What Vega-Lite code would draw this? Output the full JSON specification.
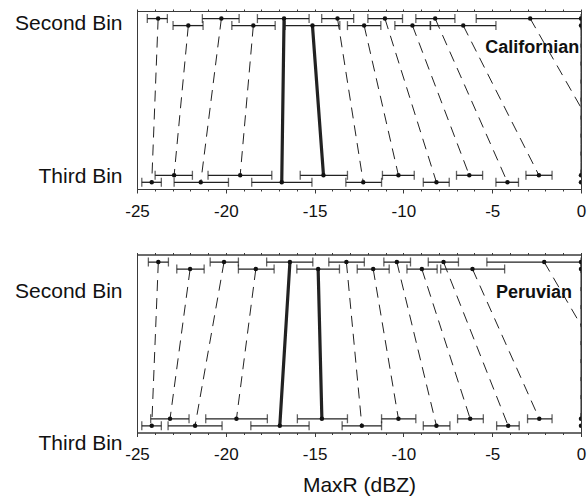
{
  "$schema": "https://vega.github.io/schema/vega-lite/v6.json",
  "background": "white",
  "padding": {"left": 14, "top": 8, "right": 4, "bottom": 2},
  "config": {
    "view": {"stroke": "#3a3a3a", "strokeWidth": 1},
    "font": "Liberation Sans",
    "axis": {"labelFont": "Liberation Sans", "titleFont": "Liberation Sans", "labelColor": "#111", "titleColor": "#111", "domainColor": "#3a3a3a", "tickColor": "#3a3a3a", "grid": false},
    "concat": {"spacing": 31.5}
  },
  "datasets": {
    "californian": [
      {"pair": 1, "kind": "case", "bin": "Second Bin", "track": "upper", "maxr": -23.81, "lo": -24.42, "hi": -23.29},
      {"pair": 1, "kind": "case", "bin": "Third Bin", "track": "lower", "maxr": -24.17, "lo": -24.73, "hi": -23.63},
      {"pair": 2, "kind": "case", "bin": "Second Bin", "track": "lower", "maxr": -22.11, "lo": -22.97, "hi": -21.28},
      {"pair": 2, "kind": "case", "bin": "Third Bin", "track": "upper", "maxr": -22.91, "lo": -23.98, "hi": -21.88},
      {"pair": 3, "kind": "case", "bin": "Second Bin", "track": "upper", "maxr": -20.25, "lo": -21.32, "hi": -19.25},
      {"pair": 3, "kind": "case", "bin": "Third Bin", "track": "lower", "maxr": -21.41, "lo": -22.91, "hi": -19.85},
      {"pair": 4, "kind": "case", "bin": "Second Bin", "track": "lower", "maxr": -18.45, "lo": -19.66, "hi": -17.22},
      {"pair": 4, "kind": "case", "bin": "Third Bin", "track": "upper", "maxr": -19.19, "lo": -21.0, "hi": -17.41},
      {"pair": 5, "kind": "mean", "bin": "Second Bin", "track": "upper", "maxr": -16.72, "lo": -18.22, "hi": -15.31},
      {"pair": 5, "kind": "mean", "bin": "Third Bin", "track": "lower", "maxr": -16.85, "lo": -18.54, "hi": -15.15},
      {"pair": 6, "kind": "mean", "bin": "Second Bin", "track": "lower", "maxr": -15.12, "lo": -16.66, "hi": -13.58},
      {"pair": 6, "kind": "mean", "bin": "Third Bin", "track": "upper", "maxr": -14.5, "lo": -15.81, "hi": -13.15},
      {"pair": 7, "kind": "case", "bin": "Second Bin", "track": "upper", "maxr": -13.71, "lo": -14.6, "hi": -12.8},
      {"pair": 7, "kind": "case", "bin": "Third Bin", "track": "lower", "maxr": -12.26, "lo": -13.24, "hi": -11.23},
      {"pair": 8, "kind": "case", "bin": "Second Bin", "track": "lower", "maxr": -12.21, "lo": -13.15, "hi": -11.27},
      {"pair": 8, "kind": "case", "bin": "Third Bin", "track": "upper", "maxr": -10.28, "lo": -11.18, "hi": -9.39},
      {"pair": 9, "kind": "case", "bin": "Second Bin", "track": "upper", "maxr": -11.04, "lo": -12.0, "hi": -10.05},
      {"pair": 9, "kind": "case", "bin": "Third Bin", "track": "lower", "maxr": -8.14, "lo": -8.88, "hi": -7.42},
      {"pair": 10, "kind": "case", "bin": "Second Bin", "track": "lower", "maxr": -9.49, "lo": -10.48, "hi": -8.49},
      {"pair": 10, "kind": "case", "bin": "Third Bin", "track": "upper", "maxr": -6.29, "lo": -7.01, "hi": -5.54},
      {"pair": 11, "kind": "case", "bin": "Second Bin", "track": "upper", "maxr": -8.21, "lo": -9.3, "hi": -7.1},
      {"pair": 11, "kind": "case", "bin": "Third Bin", "track": "lower", "maxr": -4.14, "lo": -4.79, "hi": -3.52},
      {"pair": 12, "kind": "case", "bin": "Second Bin", "track": "lower", "maxr": -6.63, "lo": -8.47, "hi": -4.79},
      {"pair": 12, "kind": "case", "bin": "Third Bin", "track": "upper", "maxr": -2.37, "lo": -3.1, "hi": -1.63},
      {"pair": 13, "kind": "case", "bin": "Second Bin", "track": "upper", "maxr": -2.86, "lo": -5.9, "hi": 0},
      {"pair": 13, "kind": "case", "bin": "Third Bin", "track": "lower", "maxr": 2.4, "lo": null, "hi": null},
      {"pair": 14, "kind": "case", "bin": "Second Bin", "track": "lower", "maxr": 0, "lo": null, "hi": null},
      {"pair": 14, "kind": "case", "bin": "Third Bin", "track": "upper", "maxr": 0, "lo": null, "hi": null},
      {"pair": 15, "kind": "case", "bin": "Second Bin", "track": "upper", "maxr": 0, "lo": null, "hi": null},
      {"pair": 15, "kind": "case", "bin": "Third Bin", "track": "lower", "maxr": 0, "lo": null, "hi": null}
    ],
    "peruvian": [
      {"pair": 1, "kind": "case", "bin": "Second Bin", "track": "upper", "maxr": -23.8, "lo": -24.36, "hi": -23.23},
      {"pair": 1, "kind": "case", "bin": "Third Bin", "track": "lower", "maxr": -24.17, "lo": -24.73, "hi": -23.63},
      {"pair": 2, "kind": "case", "bin": "Second Bin", "track": "lower", "maxr": -22.01, "lo": -22.76, "hi": -21.22},
      {"pair": 2, "kind": "case", "bin": "Third Bin", "track": "upper", "maxr": -23.14, "lo": -24.23, "hi": -22.07},
      {"pair": 3, "kind": "case", "bin": "Second Bin", "track": "upper", "maxr": -20.1, "lo": -20.88, "hi": -19.29},
      {"pair": 3, "kind": "case", "bin": "Third Bin", "track": "lower", "maxr": -21.73, "lo": -23.25, "hi": -20.21},
      {"pair": 4, "kind": "case", "bin": "Second Bin", "track": "lower", "maxr": -18.31, "lo": -19.29, "hi": -17.28},
      {"pair": 4, "kind": "case", "bin": "Third Bin", "track": "upper", "maxr": -19.4, "lo": -21.13, "hi": -17.66},
      {"pair": 5, "kind": "mean", "bin": "Second Bin", "track": "upper", "maxr": -16.39, "lo": -17.7, "hi": -15.1},
      {"pair": 5, "kind": "mean", "bin": "Third Bin", "track": "lower", "maxr": -16.96, "lo": -18.59, "hi": -15.31},
      {"pair": 6, "kind": "mean", "bin": "Second Bin", "track": "lower", "maxr": -14.8, "lo": -16.0, "hi": -13.6},
      {"pair": 6, "kind": "mean", "bin": "Third Bin", "track": "upper", "maxr": -14.59, "lo": -15.97, "hi": -13.15},
      {"pair": 7, "kind": "case", "bin": "Second Bin", "track": "upper", "maxr": -13.21, "lo": -14.2, "hi": -12.2},
      {"pair": 7, "kind": "case", "bin": "Third Bin", "track": "lower", "maxr": -12.34, "lo": -13.45, "hi": -11.23},
      {"pair": 8, "kind": "case", "bin": "Second Bin", "track": "lower", "maxr": -11.7, "lo": -12.6, "hi": -10.8},
      {"pair": 8, "kind": "case", "bin": "Third Bin", "track": "upper", "maxr": -10.28, "lo": -11.23, "hi": -9.3},
      {"pair": 9, "kind": "case", "bin": "Second Bin", "track": "upper", "maxr": -10.37, "lo": -11.1, "hi": -9.6},
      {"pair": 9, "kind": "case", "bin": "Third Bin", "track": "lower", "maxr": -8.14, "lo": -8.88, "hi": -7.38},
      {"pair": 10, "kind": "case", "bin": "Second Bin", "track": "lower", "maxr": -8.96, "lo": -9.8, "hi": -8.1},
      {"pair": 10, "kind": "case", "bin": "Third Bin", "track": "upper", "maxr": -6.24, "lo": -6.95, "hi": -5.5},
      {"pair": 11, "kind": "case", "bin": "Second Bin", "track": "upper", "maxr": -7.74, "lo": -8.6, "hi": -6.9},
      {"pair": 11, "kind": "case", "bin": "Third Bin", "track": "lower", "maxr": -4.1, "lo": -4.75, "hi": -3.48},
      {"pair": 12, "kind": "case", "bin": "Second Bin", "track": "lower", "maxr": -6.11, "lo": -7.9, "hi": -4.3},
      {"pair": 12, "kind": "case", "bin": "Third Bin", "track": "upper", "maxr": -2.35, "lo": -3.01, "hi": -1.63},
      {"pair": 13, "kind": "case", "bin": "Second Bin", "track": "upper", "maxr": -2.07, "lo": -5.3, "hi": 0},
      {"pair": 13, "kind": "case", "bin": "Third Bin", "track": "lower", "maxr": 3.3, "lo": null, "hi": null},
      {"pair": 14, "kind": "case", "bin": "Second Bin", "track": "lower", "maxr": 0, "lo": null, "hi": null},
      {"pair": 14, "kind": "case", "bin": "Third Bin", "track": "upper", "maxr": 0, "lo": null, "hi": null},
      {"pair": 15, "kind": "case", "bin": "Second Bin", "track": "upper", "maxr": 0, "lo": null, "hi": null},
      {"pair": 15, "kind": "case", "bin": "Third Bin", "track": "lower", "maxr": 0, "lo": null, "hi": null}
    ]
  },
  "vconcat": [
    {
      "width": 444,
      "height": 178,
      "layer": [
        {
          "data": {"name": "californian"},
          "mark": {"type": "line", "clip": true, "color": "#222"},
          "encoding": {
            "x": {"field": "maxr", "type": "quantitative", "scale": {"domain": [-25, 0], "nice": false, "zero": false},
              "axis": {"orient": "bottom", "title": null, "values": [-25,-24,-23,-22,-21,-20,-19,-18,-17,-16,-15,-14,-13,-12,-11,-10,-9,-8,-7,-6,-5,-4,-3,-2,-1,0],
                "labelExpr": "datum.value % 5 === 0 ? '' + datum.value : ''", "labelFontSize": 17, "labelPadding": 10,
                "tickSize": {"condition": {"test": "datum.value % 5 === 0", "value": 4}, "value": 2}, "labelFlush": false, "labelOverlap": false}},
            "y": {"field": "bin", "type": "nominal",
              "scale": {"type": "band", "domain": ["Second Bin", "Third Bin"], "paddingInner": 0.864, "paddingOuter": 0},
              "axis": {"title": null, "ticks": false, "domain": true, "labelFontSize": 21, "labelPadding": 15, "labelBaseline": "middle",
                "labelOffset": {"condition": {"test": "datum.value === 'Second Bin'", "value": 2.4}, "value": -1.8}}},
            "yOffset": {"field": "track", "type": "nominal", "scale": {"type": "point", "domain": ["upper", "lower"], "range": [7.6, 14.6], "padding": 0}},
            "detail": {"field": "pair", "type": "nominal"},
            "strokeWidth": {"field": "kind", "type": "nominal", "scale": {"domain": ["case", "mean"], "range": [1, 3.2]}, "legend": null},
            "strokeDash": {"field": "kind", "type": "nominal", "scale": {"domain": ["case", "mean"], "range": [[11, 7], [1, 0]]}, "legend": null}
          }
        },
        {
          "data": {"name": "californian"},
          "mark": {"type": "rule", "clip": true, "color": "#222", "strokeWidth": 1.3},
          "encoding": {"x": {"field": "lo", "type": "quantitative", "axis": null}, "x2": {"field": "hi"},
            "y": {"field": "bin", "type": "nominal"}, "yOffset": {"field": "track", "type": "nominal"}}
        },
        {
          "data": {"name": "californian"},
          "mark": {"type": "tick", "clip": true, "orient": "vertical", "size": 9, "thickness": 1.3, "color": "#222"},
          "encoding": {"x": {"field": "lo", "type": "quantitative", "axis": null},
            "y": {"field": "bin", "type": "nominal"}, "yOffset": {"field": "track", "type": "nominal"}}
        },
        {
          "data": {"name": "californian"},
          "mark": {"type": "tick", "clip": true, "orient": "vertical", "size": 9, "thickness": 1.3, "color": "#222"},
          "encoding": {"x": {"field": "hi", "type": "quantitative", "axis": null},
            "y": {"field": "bin", "type": "nominal"}, "yOffset": {"field": "track", "type": "nominal"}}
        },
        {
          "data": {"name": "californian"},
          "mark": {"type": "point", "clip": true, "filled": true, "size": 20, "color": "#111", "opacity": 1},
          "encoding": {
            "x": {"field": "maxr", "type": "quantitative",
              "axis": {"orient": "top", "title": null, "labels": false, "tickSize": 2, "values": [-25,-24,-23,-22,-21,-20,-19,-18,-17,-16,-15,-14,-13,-12,-11,-10,-9,-8,-7,-6,-5,-4,-3,-2,-1,0]}},
            "y": {"field": "bin", "type": "nominal"}, "yOffset": {"field": "track", "type": "nominal"}
          }
        },
        {
          "data": {"values": [{"panel": "Californian", "bin": "Second Bin"}]},
          "mark": {"type": "text", "align": "right", "baseline": "alphabetic", "dy": 31.6, "fontSize": 18, "fontWeight": "bold", "color": "#111", "font": "Liberation Sans"},
          "encoding": {"x": {"datum": -0.1, "type": "quantitative", "axis": null}, "y": {"field": "bin", "type": "nominal"}, "text": {"field": "panel"}}
        }
      ]
    },
    {
      "width": 444,
      "height": 178,
      "layer": [
        {
          "data": {"name": "peruvian"},
          "mark": {"type": "line", "clip": true, "color": "#222"},
          "encoding": {
            "x": {"field": "maxr", "type": "quantitative", "scale": {"domain": [-25, 0], "nice": false, "zero": false},
              "axis": {"orient": "bottom", "title": "MaxR (dBZ)", "titleFontSize": 21, "titleFontWeight": "normal", "titlePadding": 12,
                "values": [-25,-24,-23,-22,-21,-20,-19,-18,-17,-16,-15,-14,-13,-12,-11,-10,-9,-8,-7,-6,-5,-4,-3,-2,-1,0],
                "labelExpr": "datum.value % 5 === 0 ? '' + datum.value : ''", "labelFontSize": 17, "labelPadding": 10,
                "tickSize": {"condition": {"test": "datum.value % 5 === 0", "value": 4}, "value": 2}, "labelFlush": false, "labelOverlap": false}},
            "y": {"field": "bin", "type": "nominal",
              "scale": {"type": "band", "domain": ["Second Bin", "Third Bin"], "paddingInner": 0.864, "paddingOuter": 0},
              "axis": {"title": null, "ticks": false, "domain": true, "labelFontSize": 21, "labelPadding": 15, "labelBaseline": "middle",
                "labelOffset": {"condition": {"test": "datum.value === 'Second Bin'", "value": 26.7}, "value": 22}}},
            "yOffset": {"field": "track", "type": "nominal", "scale": {"type": "point", "domain": ["upper", "lower"], "range": [7.6, 14.6], "padding": 0}},
            "detail": {"field": "pair", "type": "nominal"},
            "strokeWidth": {"field": "kind", "type": "nominal", "scale": {"domain": ["case", "mean"], "range": [1, 3.2]}, "legend": null},
            "strokeDash": {"field": "kind", "type": "nominal", "scale": {"domain": ["case", "mean"], "range": [[11, 7], [1, 0]]}, "legend": null}
          }
        },
        {
          "data": {"name": "peruvian"},
          "mark": {"type": "rule", "clip": true, "color": "#222", "strokeWidth": 1.3},
          "encoding": {"x": {"field": "lo", "type": "quantitative", "axis": null}, "x2": {"field": "hi"},
            "y": {"field": "bin", "type": "nominal"}, "yOffset": {"field": "track", "type": "nominal"}}
        },
        {
          "data": {"name": "peruvian"},
          "mark": {"type": "tick", "clip": true, "orient": "vertical", "size": 9, "thickness": 1.3, "color": "#222"},
          "encoding": {"x": {"field": "lo", "type": "quantitative", "axis": null},
            "y": {"field": "bin", "type": "nominal"}, "yOffset": {"field": "track", "type": "nominal"}}
        },
        {
          "data": {"name": "peruvian"},
          "mark": {"type": "tick", "clip": true, "orient": "vertical", "size": 9, "thickness": 1.3, "color": "#222"},
          "encoding": {"x": {"field": "hi", "type": "quantitative", "axis": null},
            "y": {"field": "bin", "type": "nominal"}, "yOffset": {"field": "track", "type": "nominal"}}
        },
        {
          "data": {"name": "peruvian"},
          "mark": {"type": "point", "clip": true, "filled": true, "size": 20, "color": "#111", "opacity": 1},
          "encoding": {
            "x": {"field": "maxr", "type": "quantitative",
              "axis": {"orient": "top", "title": null, "labels": false, "tickSize": 2, "values": [-25,-24,-23,-22,-21,-20,-19,-18,-17,-16,-15,-14,-13,-12,-11,-10,-9,-8,-7,-6,-5,-4,-3,-2,-1,0]}},
            "y": {"field": "bin", "type": "nominal"}, "yOffset": {"field": "track", "type": "nominal"}
          }
        },
        {
          "data": {"values": [{"panel": "Peruvian", "bin": "Second Bin"}]},
          "mark": {"type": "text", "align": "right", "baseline": "alphabetic", "dy": 33.3, "fontSize": 18, "fontWeight": "bold", "color": "#111", "font": "Liberation Sans"},
          "encoding": {"x": {"datum": -0.5, "type": "quantitative", "axis": null}, "y": {"field": "bin", "type": "nominal"}, "text": {"field": "panel"}}
        }
      ]
    }
  ]
}
